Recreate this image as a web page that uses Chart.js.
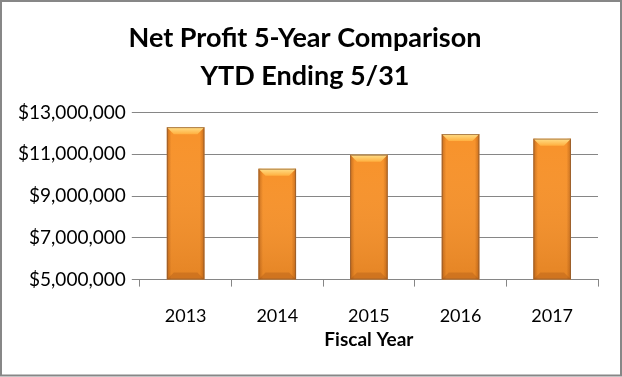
<!DOCTYPE html>
<html>
<head>
<meta charset="utf-8">
<script src="https://cdn.jsdelivr.net/npm/chart.js@4/dist/chart.umd.min.js"></script>
<style>
  html, body { margin: 0; padding: 0; background: #fff; }
  #wrap { width: 622px; height: 377px; position: relative; }
</style>
</head>
<body>
<div id="wrap"><canvas id="c" width="622" height="377"></canvas></div>
<script>
const categories = ['2013', '2014', '2015', '2016', '2017'];
const netProfit = [12300000, 10310000, 10980000, 11970000, 11750000];
const titleLines = ['Net Profit 5-Year Comparison', 'YTD Ending 5/31'];
const xAxisTitle = 'Fiscal Year';
const yMin = 5000000, yMax = 13000000, yStep = 2000000;

const FONT = 'Lato, "Open Sans", sans-serif';

const bevelPlugin = {
  id: 'bevel',
  afterDatasetsDraw(chart) {
    const ctx = chart.ctx;
    const area = chart.chartArea;
    const meta = chart.getDatasetMeta(0);
    ctx.save();
    ctx.beginPath();
    ctx.rect(area.left, area.top, area.right - area.left, area.bottom - area.top);
    ctx.clip();
    meta.data.forEach(bar => {
      const w = bar.width, x0 = bar.x - w / 2, x1 = bar.x + w / 2;
      const top = bar.y, bot = Math.min(bar.base, area.bottom), h = bot - top;
      const b = Math.min(7, w / 4, h / 4);
      const g = ctx.createLinearGradient(x0, 0, x1, 0);
      g.addColorStop(0, 'rgba(150,70,10,0.5)');
      g.addColorStop(0.12, 'rgba(150,70,10,0.0)');
      g.addColorStop(0.88, 'rgba(150,70,10,0.0)');
      g.addColorStop(1, 'rgba(150,70,10,0.5)');
      ctx.fillStyle = g;
      ctx.fillRect(x0, top, w, h);
      const gv = ctx.createLinearGradient(0, top, 0, bot);
      gv.addColorStop(0, 'rgba(255,255,255,0.0)');
      gv.addColorStop(1, 'rgba(120,50,0,0.15)');
      ctx.fillStyle = gv;
      ctx.fillRect(x0, top, w, h);
      ctx.beginPath();
      ctx.moveTo(x0, top); ctx.lineTo(x1, top);
      ctx.lineTo(x1 - b, top + b); ctx.lineTo(x0 + b, top + b); ctx.closePath();
      const gt = ctx.createLinearGradient(0, top, 0, top + b);
      gt.addColorStop(0, '#FFE08A');
      gt.addColorStop(1, '#FFB040');
      ctx.fillStyle = gt; ctx.fill();
      ctx.beginPath();
      ctx.moveTo(x0, bot); ctx.lineTo(x1, bot);
      ctx.lineTo(x1 - b, bot - b); ctx.lineTo(x0 + b, bot - b); ctx.closePath();
      ctx.fillStyle = 'rgba(160,80,20,0.3)'; ctx.fill();
      ctx.strokeStyle = 'rgba(140,90,50,0.7)';
      ctx.lineWidth = 1;
      ctx.strokeRect(x0 + 0.5, top + 0.5, w - 1, h - 1);
    });
    ctx.restore();
  }
};

const borderPlugin = {
  id: 'frame',
  afterDraw(chart) {
    const ctx = chart.ctx;
    ctx.save();
    ctx.strokeStyle = '#878787';
    ctx.lineWidth = 2;
    ctx.strokeRect(1, 1, chart.width - 2, chart.height - 2.5);
    ctx.restore();
  }
};

new Chart(document.getElementById('c'), {
  type: 'bar',
  data: {
    labels: categories,
    datasets: [{
      data: netProfit,
      backgroundColor: '#F7922A',
      borderWidth: 0,
      barPercentage: 0.41,
      categoryPercentage: 1.0
    }]
  },
  options: {
    responsive: false,
    animation: false,
    devicePixelRatio: 1,
    layout: { padding: { left: 12, right: 24, top: 6, bottom: 26 } },
    plugins: {
      legend: { display: false },
      tooltip: { enabled: false },
      title: {
        display: true,
        text: titleLines,
        color: '#000',
        font: { family: FONT, size: 27, weight: 'bold', lineHeight: 1.38 },
        padding: { top: 14, bottom: 18 }
      }
    },
    scales: {
      x: {
        grid: { display: true, drawOnChartArea: false, tickLength: 7, color: '#868686', offset: true },
        border: { display: true, color: '#868686' },
        ticks: { color: '#000', font: { family: FONT, size: 18 }, padding: 19 },
        title: { display: true, text: xAxisTitle, color: '#000', font: { family: FONT, size: 19, weight: 'bold' }, padding: { top: -18, bottom: 0 } }
      },
      y: {
        min: yMin, max: yMax,
        grid: { color: '#868686', lineWidth: 1, tickLength: 8 },
        border: { display: false },
        ticks: {
          stepSize: yStep,
          color: '#000',
          font: { family: FONT, size: 19 },
          padding: 6,
          callback: v => '$' + v.toLocaleString('en-US')
        }
      }
    }
  },
  plugins: [bevelPlugin, borderPlugin]
});
</script>
</body>
</html>
